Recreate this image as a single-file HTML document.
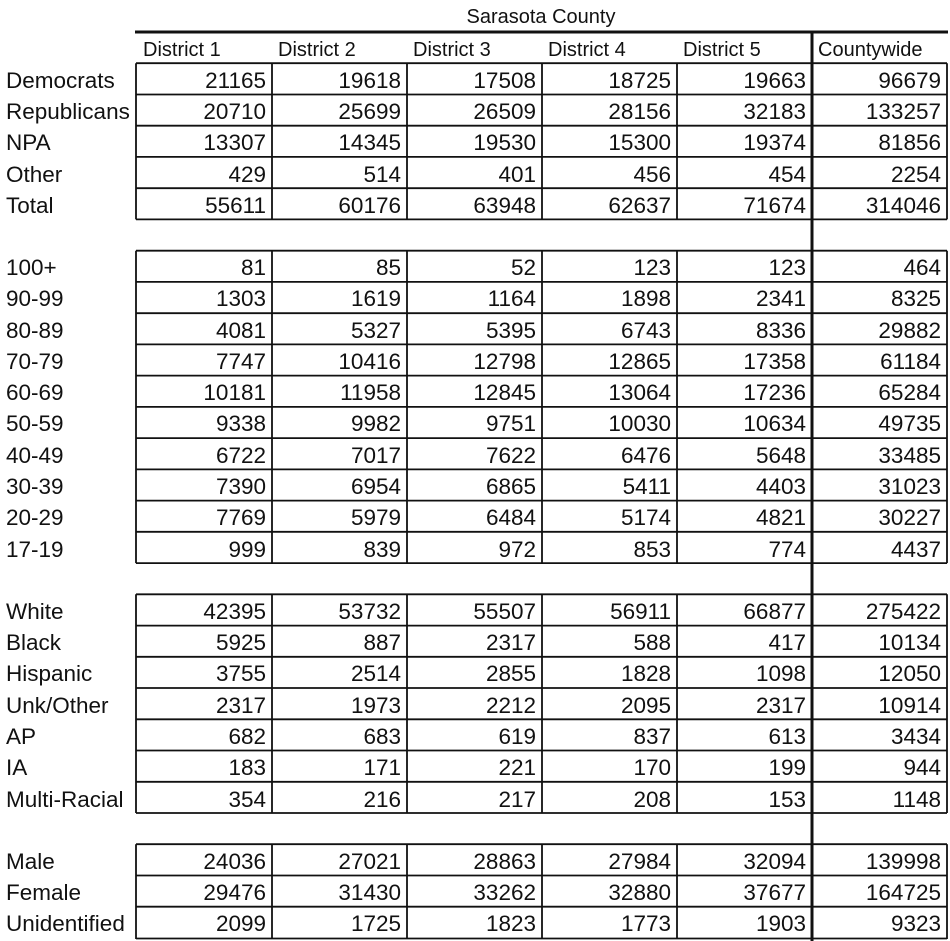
<!DOCTYPE html>
<html><head><meta charset="utf-8"><style>
html,body{margin:0;padding:0;background:#fff;}
svg{display:block;}
text{font-family:"Liberation Sans",sans-serif;font-size:22.5px;fill:#111;}
.h text{font-size:20px;}
.n text{text-anchor:end;}
</style></head><body>
<svg width="950" height="941" viewBox="0 0 950 941" xmlns="http://www.w3.org/2000/svg">
<text x="541" y="23" text-anchor="middle" style="font-size:20px">Sarasota County</text>
<line x1="135" y1="32" x2="948" y2="32" stroke="#111" stroke-width="3"/>
<g class="h" transform="translate(0,56)">
<text x="143" y="0">District 1</text><text x="278" y="0">District 2</text><text x="413" y="0">District 3</text><text x="548" y="0">District 4</text><text x="683" y="0">District 5</text><text x="818" y="0">Countywide</text>
</g>
<g stroke="#111" stroke-width="1.8">
<line x1="136" x2="947" y1="63.2" y2="63.2"/><line x1="136" x2="947" y1="94.5" y2="94.5"/><line x1="136" x2="947" y1="125.7" y2="125.7"/><line x1="136" x2="947" y1="156.9" y2="156.9"/><line x1="136" x2="947" y1="188.2" y2="188.2"/><line x1="136" x2="947" y1="219.4" y2="219.4"/>
<line x1="136" x2="947" y1="250.7" y2="250.7"/><line x1="136" x2="947" y1="281.9" y2="281.9"/><line x1="136" x2="947" y1="313.2" y2="313.2"/><line x1="136" x2="947" y1="344.4" y2="344.4"/><line x1="136" x2="947" y1="375.6" y2="375.6"/><line x1="136" x2="947" y1="406.9" y2="406.9"/><line x1="136" x2="947" y1="438.1" y2="438.1"/><line x1="136" x2="947" y1="469.4" y2="469.4"/><line x1="136" x2="947" y1="500.6" y2="500.6"/><line x1="136" x2="947" y1="531.8" y2="531.8"/><line x1="136" x2="947" y1="563.1" y2="563.1"/>
<line x1="136" x2="947" y1="594.3" y2="594.3"/><line x1="136" x2="947" y1="625.6" y2="625.6"/><line x1="136" x2="947" y1="656.8" y2="656.8"/><line x1="136" x2="947" y1="688" y2="688"/><line x1="136" x2="947" y1="719.3" y2="719.3"/><line x1="136" x2="947" y1="750.5" y2="750.5"/><line x1="136" x2="947" y1="781.8" y2="781.8"/><line x1="136" x2="947" y1="813" y2="813"/>
<line x1="136" x2="947" y1="844.2" y2="844.2"/><line x1="136" x2="947" y1="875.5" y2="875.5"/><line x1="136" x2="947" y1="906.7" y2="906.7"/><line x1="136" x2="947" y1="938.5" y2="938.5"/>
<g><line x1="136" x2="136" y1="63.2" y2="219.4"/><line x1="272" x2="272" y1="63.2" y2="219.4"/><line x1="407" x2="407" y1="63.2" y2="219.4"/><line x1="542" x2="542" y1="63.2" y2="219.4"/><line x1="677" x2="677" y1="63.2" y2="219.4"/><line x1="947" x2="947" y1="63.2" y2="219.4"/></g>
<g><line x1="136" x2="136" y1="250.7" y2="563.1"/><line x1="272" x2="272" y1="250.7" y2="563.1"/><line x1="407" x2="407" y1="250.7" y2="563.1"/><line x1="542" x2="542" y1="250.7" y2="563.1"/><line x1="677" x2="677" y1="250.7" y2="563.1"/><line x1="947" x2="947" y1="250.7" y2="563.1"/></g>
<g><line x1="136" x2="136" y1="594.3" y2="813"/><line x1="272" x2="272" y1="594.3" y2="813"/><line x1="407" x2="407" y1="594.3" y2="813"/><line x1="542" x2="542" y1="594.3" y2="813"/><line x1="677" x2="677" y1="594.3" y2="813"/><line x1="947" x2="947" y1="594.3" y2="813"/></g>
<g><line x1="136" x2="136" y1="844.2" y2="939"/><line x1="272" x2="272" y1="844.2" y2="939"/><line x1="407" x2="407" y1="844.2" y2="939"/><line x1="542" x2="542" y1="844.2" y2="939"/><line x1="677" x2="677" y1="844.2" y2="939"/><line x1="947" x2="947" y1="844.2" y2="939"/></g>
</g>
<line x1="812" x2="812" y1="31" y2="941" stroke="#111" stroke-width="3"/>

<g>
<text x="6" y="88">Democrats</text><text x="6" y="119">Republicans</text><text x="6" y="150">NPA</text><text x="6" y="182">Other</text><text x="6" y="213">Total</text>
<text x="6" y="275">100+</text><text x="6" y="306">90-99</text><text x="6" y="338">80-89</text><text x="6" y="369">70-79</text><text x="6" y="400">60-69</text><text x="6" y="431">50-59</text><text x="6" y="463">40-49</text><text x="6" y="494">30-39</text><text x="6" y="525">20-29</text><text x="6" y="557">17-19</text>
<text x="6" y="619">White</text><text x="6" y="650">Black</text><text x="6" y="681">Hispanic</text><text x="6" y="713">Unk/Other</text><text x="6" y="744">AP</text><text x="6" y="775">IA</text><text x="6" y="807">Multi-Racial</text>
<text x="6" y="869">Male</text><text x="6" y="900">Female</text><text x="6" y="931">Unidentified</text>
</g>
<g class="n">
<text x="266" y="88">21165</text><text x="401" y="88">19618</text><text x="536" y="88">17508</text><text x="671" y="88">18725</text><text x="806" y="88">19663</text><text x="941" y="88">96679</text>
<text x="266" y="119">20710</text><text x="401" y="119">25699</text><text x="536" y="119">26509</text><text x="671" y="119">28156</text><text x="806" y="119">32183</text><text x="941" y="119">133257</text>
<text x="266" y="150">13307</text><text x="401" y="150">14345</text><text x="536" y="150">19530</text><text x="671" y="150">15300</text><text x="806" y="150">19374</text><text x="941" y="150">81856</text>
<text x="266" y="182">429</text><text x="401" y="182">514</text><text x="536" y="182">401</text><text x="671" y="182">456</text><text x="806" y="182">454</text><text x="941" y="182">2254</text>
<text x="266" y="213">55611</text><text x="401" y="213">60176</text><text x="536" y="213">63948</text><text x="671" y="213">62637</text><text x="806" y="213">71674</text><text x="941" y="213">314046</text>

<text x="266" y="275">81</text><text x="401" y="275">85</text><text x="536" y="275">52</text><text x="671" y="275">123</text><text x="806" y="275">123</text><text x="941" y="275">464</text>
<text x="266" y="306">1303</text><text x="401" y="306">1619</text><text x="536" y="306">1164</text><text x="671" y="306">1898</text><text x="806" y="306">2341</text><text x="941" y="306">8325</text>
<text x="266" y="338">4081</text><text x="401" y="338">5327</text><text x="536" y="338">5395</text><text x="671" y="338">6743</text><text x="806" y="338">8336</text><text x="941" y="338">29882</text>
<text x="266" y="369">7747</text><text x="401" y="369">10416</text><text x="536" y="369">12798</text><text x="671" y="369">12865</text><text x="806" y="369">17358</text><text x="941" y="369">61184</text>
<text x="266" y="400">10181</text><text x="401" y="400">11958</text><text x="536" y="400">12845</text><text x="671" y="400">13064</text><text x="806" y="400">17236</text><text x="941" y="400">65284</text>
<text x="266" y="431">9338</text><text x="401" y="431">9982</text><text x="536" y="431">9751</text><text x="671" y="431">10030</text><text x="806" y="431">10634</text><text x="941" y="431">49735</text>
<text x="266" y="463">6722</text><text x="401" y="463">7017</text><text x="536" y="463">7622</text><text x="671" y="463">6476</text><text x="806" y="463">5648</text><text x="941" y="463">33485</text>
<text x="266" y="494">7390</text><text x="401" y="494">6954</text><text x="536" y="494">6865</text><text x="671" y="494">5411</text><text x="806" y="494">4403</text><text x="941" y="494">31023</text>
<text x="266" y="525">7769</text><text x="401" y="525">5979</text><text x="536" y="525">6484</text><text x="671" y="525">5174</text><text x="806" y="525">4821</text><text x="941" y="525">30227</text>
<text x="266" y="557">999</text><text x="401" y="557">839</text><text x="536" y="557">972</text><text x="671" y="557">853</text><text x="806" y="557">774</text><text x="941" y="557">4437</text>

<text x="266" y="619">42395</text><text x="401" y="619">53732</text><text x="536" y="619">55507</text><text x="671" y="619">56911</text><text x="806" y="619">66877</text><text x="941" y="619">275422</text>
<text x="266" y="650">5925</text><text x="401" y="650">887</text><text x="536" y="650">2317</text><text x="671" y="650">588</text><text x="806" y="650">417</text><text x="941" y="650">10134</text>
<text x="266" y="681">3755</text><text x="401" y="681">2514</text><text x="536" y="681">2855</text><text x="671" y="681">1828</text><text x="806" y="681">1098</text><text x="941" y="681">12050</text>
<text x="266" y="713">2317</text><text x="401" y="713">1973</text><text x="536" y="713">2212</text><text x="671" y="713">2095</text><text x="806" y="713">2317</text><text x="941" y="713">10914</text>
<text x="266" y="744">682</text><text x="401" y="744">683</text><text x="536" y="744">619</text><text x="671" y="744">837</text><text x="806" y="744">613</text><text x="941" y="744">3434</text>
<text x="266" y="775">183</text><text x="401" y="775">171</text><text x="536" y="775">221</text><text x="671" y="775">170</text><text x="806" y="775">199</text><text x="941" y="775">944</text>
<text x="266" y="807">354</text><text x="401" y="807">216</text><text x="536" y="807">217</text><text x="671" y="807">208</text><text x="806" y="807">153</text><text x="941" y="807">1148</text>

<text x="266" y="869">24036</text><text x="401" y="869">27021</text><text x="536" y="869">28863</text><text x="671" y="869">27984</text><text x="806" y="869">32094</text><text x="941" y="869">139998</text>
<text x="266" y="900">29476</text><text x="401" y="900">31430</text><text x="536" y="900">33262</text><text x="671" y="900">32880</text><text x="806" y="900">37677</text><text x="941" y="900">164725</text>
<text x="266" y="931">2099</text><text x="401" y="931">1725</text><text x="536" y="931">1823</text><text x="671" y="931">1773</text><text x="806" y="931">1903</text><text x="941" y="931">9323</text>
</g>
</svg>
</body></html>
